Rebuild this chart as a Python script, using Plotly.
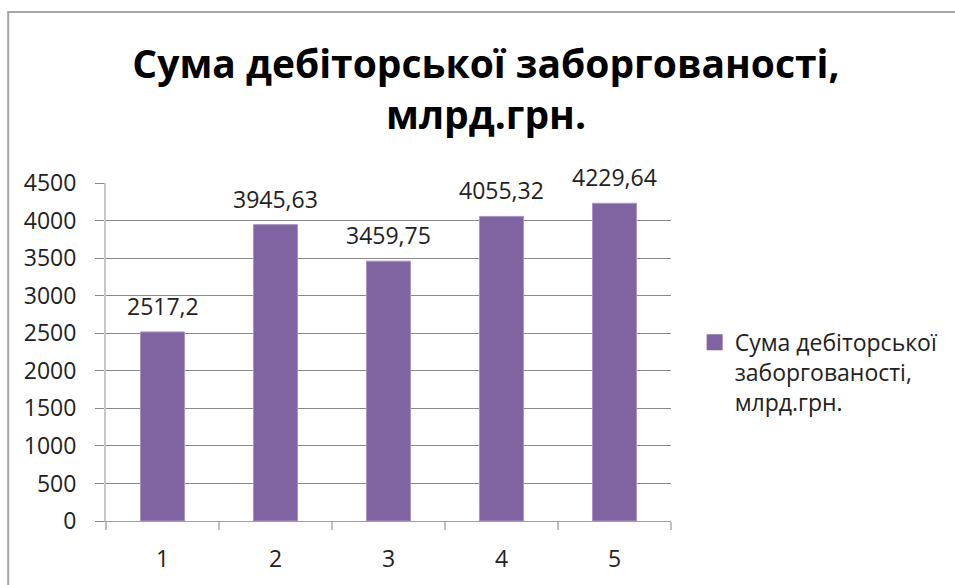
import plotly.graph_objects as go

categories = ["1", "2", "3", "4", "5"]
values = [2517.2, 3945.63, 3459.75, 4055.32, 4229.64]
series_name = "Сума дебіторської<br>заборгованості,<br>млрд.грн."
title_text = "Сума дебіторської заборгованості,<br>млрд.грн."
y_ticks = [0, 500, 1000, 1500, 2000, 2500, 3000, 3500, 4000, 4500]

BAR_COLOR = "#8064A2"
FONT = "Open Sans"

fig = go.Figure()
fig.add_trace(go.Bar(
    x=categories, y=values, marker=dict(color=BAR_COLOR, line=dict(color="#a995c0", width=1)),
    showlegend=False, legendgroup="s", name=series_name,
))
fig.add_trace(go.Scatter(
    x=[None], y=[None], mode="markers", name=series_name, legendgroup="s",
    marker=dict(symbol="square", size=16, color=BAR_COLOR),
))

for i, v in enumerate(values):
    fig.add_annotation(
        x=i, y=v, text=f"{v:g}".replace(".", ","), showarrow=False,
        yanchor="middle", yshift=26, font=dict(family=FONT, size=23, color="#222"),
    )

fig.update_layout(
    width=955, height=585,
    margin=dict(l=106, r=283, t=183, b=64),
    paper_bgcolor="white", plot_bgcolor="white",
    bargap=0.61,
    title=dict(
        text=title_text, x=486 / 955, xanchor="center", xref="container",
        y=1 - 78 / 585, yanchor="top", yref="container",
        font=dict(family=FONT, size=39, color="#000", weight=700),
    ),
    legend=dict(
        x=1.04, xanchor="left", y=0.44, yanchor="middle", valign="top",
        font=dict(family=FONT, size=23, color="#222"),
        bgcolor="rgba(0,0,0,0)",
    ),
    xaxis=dict(
        type="category", range=[-0.5, 4.5], showgrid=False,
        showline=True, linecolor="#a0a0a0", linewidth=1,
        ticks="outside", tickson="boundaries", ticklen=8, tickcolor="#c0c0c0", tickwidth=2,
        ticklabelstandoff=17,
        tickfont=dict(family=FONT, size=23, color="#222"),
    ),
    yaxis=dict(
        range=[0, 4500], tickvals=y_ticks, showgrid=True, gridcolor="#8a8a8a", gridwidth=1,
        showline=True, linecolor="#c8c8c8", linewidth=2,
        ticks="outside", ticklen=9, tickcolor="#8a8a8a", tickwidth=1,
        ticklabelstandoff=14, zeroline=False,
        tickfont=dict(family=FONT, size=23, color="#222"),
    ),
    shapes=[dict(
        type="rect", xref="paper", yref="paper",
        x0=(8 - 106) / 566, x1=1.6, y0=-0.3, y1=(521 - 12) / 338,
        line=dict(color="#a6a6a6", width=2), fillcolor="rgba(0,0,0,0)", layer="below",
    )],
)

fig.write_html("out.html")
